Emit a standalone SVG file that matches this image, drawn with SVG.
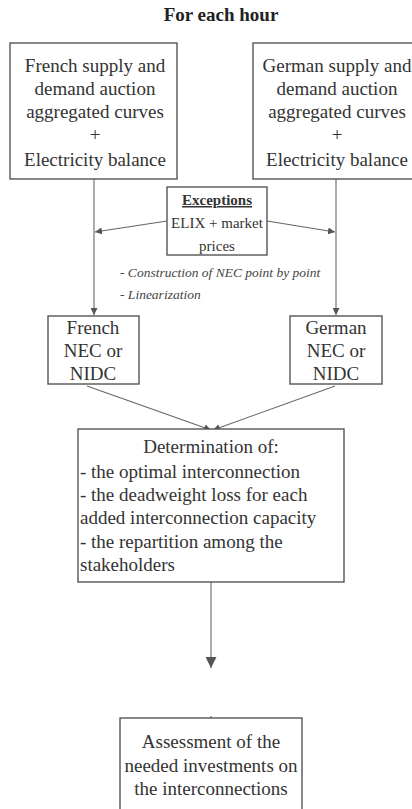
<svg xmlns="http://www.w3.org/2000/svg" width="412" height="809" viewBox="0 0 412 809">
<defs>
<style>
.box{fill:#fff;stroke:#555;stroke-width:1.4}
.t{font-family:'Liberation Serif',serif;font-size:19px;fill:#333}
.c{text-anchor:middle}
.ln{stroke:#666;stroke-width:1.1;fill:none}
.it{font-family:'Liberation Serif',serif;font-size:13.5px;font-style:italic;fill:#444}
</style>
<marker id="ah" viewBox="0 0 10 10" refX="10" refY="5" markerWidth="7" markerHeight="7" markerUnits="userSpaceOnUse" orient="auto">
<path d="M0,0 L10,5 L0,10 z" fill="#555"/>
</marker>
<marker id="ahb" viewBox="0 0 10 10" refX="10" refY="5" markerWidth="11" markerHeight="11" markerUnits="userSpaceOnUse" orient="auto">
<path d="M0,0 L10,5 L0,10 z" fill="#555"/>
</marker>
</defs>
<rect width="412" height="809" fill="#fff"/>
<text x="221" y="21" class="t c" style="font-weight:bold;font-size:19px;fill:#222">For each hour</text>
<g id="connectors">
<line class="ln" x1="94" y1="179" x2="94" y2="315" marker-end="url(#ah)"/>
<line class="ln" x1="336" y1="179" x2="336" y2="315" marker-end="url(#ah)"/>
<line class="ln" x1="167" y1="221" x2="95" y2="232" marker-end="url(#ah)"/>
<line class="ln" x1="267" y1="221" x2="335" y2="232" marker-end="url(#ah)"/>
<line class="ln" x1="87" y1="386" x2="211" y2="430" marker-end="url(#ah)"/>
<line class="ln" x1="335" y1="386" x2="213" y2="430" marker-end="url(#ah)"/>
<line class="ln" x1="211" y1="582" x2="211" y2="668" marker-end="url(#ahb)"/>
<line class="ln" x1="211" y1="716" x2="211" y2="719"/>
</g>
<g id="french-curves">
<rect class="box" x="10" y="43" width="167" height="136"/>
<text class="t c" x="95" y="72">French supply and</text>
<text class="t c" x="95" y="95">demand auction</text>
<text class="t c" x="95" y="118">aggregated curves</text>
<text class="t c" x="95" y="141">+</text>
<text class="t c" x="95" y="166">Electricity balance</text>
</g>
<g id="german-curves">
<rect class="box" x="253" y="43" width="165" height="136"/>
<text class="t c" x="337" y="72">German supply and</text>
<text class="t c" x="337" y="95">demand auction</text>
<text class="t c" x="337" y="118">aggregated curves</text>
<text class="t c" x="337" y="141">+</text>
<text class="t c" x="337" y="166">Electricity balance</text>
</g>
<g id="exceptions">
<rect class="box" x="167" y="187" width="100" height="68"/>
<text class="t c" x="217" y="205" style="font-size:15px;font-weight:bold;text-decoration:underline">Exceptions</text>
<text class="t c" x="217" y="228" style="font-size:15px">ELIX + market</text>
<text class="t c" x="217" y="251" style="font-size:15px">prices</text>
</g>
<g id="method-notes">
<text class="it" x="120" y="277">- Construction of NEC point by point</text>
<text class="it" x="120" y="299">- Linearization</text>
</g>
<g id="french-nec">
<rect class="box" x="48" y="316" width="91" height="68"/>
<text class="t c" x="93" y="334">French</text>
<text class="t c" x="93" y="357">NEC or</text>
<text class="t c" x="93" y="380">NIDC</text>
</g>
<g id="german-nec">
<rect class="box" x="290" y="316" width="92" height="68"/>
<text class="t c" x="336" y="334">German</text>
<text class="t c" x="336" y="357">NEC or</text>
<text class="t c" x="336" y="380">NIDC</text>
</g>
<g id="determination">
<rect class="box" x="78" y="429" width="266" height="153"/>
<text class="t c" x="211" y="453">Determination of:</text>
<text class="t" x="80" y="478">- the optimal interconnection</text>
<text class="t" x="80" y="501">- the deadweight loss for each</text>
<text class="t" x="80" y="524">added interconnection capacity</text>
<text class="t" x="80" y="548">- the repartition among the</text>
<text class="t" x="80" y="571">stakeholders</text>
</g>
<g id="assessment">
<rect class="box" x="120" y="718" width="182" height="100"/>
<text class="t c" x="211" y="748">Assessment of the</text>
<text class="t c" x="211" y="772">needed investments on</text>
<text class="t c" x="211" y="795">the interconnections</text>
</g>
</svg>
